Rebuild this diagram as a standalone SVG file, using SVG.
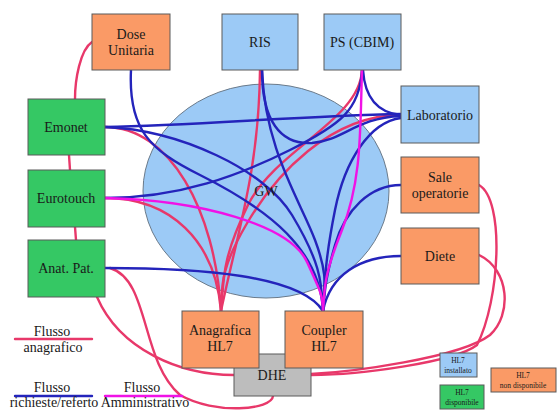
<svg xmlns="http://www.w3.org/2000/svg" width="557" height="410" viewBox="0 0 557 410">
  <style>
    .box { stroke: #5a5a5a; stroke-width: 1; }
    .or { fill: #fa9a66; }
    .bl { fill: #9ccaf6; }
    .gr { fill: #35c864; }
    .gy { fill: #bdbdbd; }
    .c { fill: none; stroke-width: 2.4; stroke-linecap: round; }
    .r { stroke: #e8386a; }
    .b { stroke: #2424bb; }
    .m { stroke: #f012e6; }
  </style>

  <!-- gateway -->
  <g id="gw">
    <ellipse cx="266" cy="191" rx="123" ry="107" fill="#9ccaf6" stroke="#6a7a8a" stroke-width="1"/>
  </g>

  <!-- connectors -->
  <g id="connectors">
    <!-- anagrafico -->
    <path class="c r" d="M92,42 C80,50 75,80 75,99"/>
    <path class="c r" d="M69,155 L70,170"/>
    <path class="c r" d="M75,227 L76,240"/>
    <path class="c r" d="M105,127 C170,127 215,210 221,311"/>
    <path class="c r" d="M105,198 C170,198 215,240 221,311"/>
    <path class="c r" d="M260,70 C259,170 238,230 221,311"/>
    <path class="c r" d="M362,70 C360,120 275,150 248,205 S224,280 221,311"/>
    <path class="c r" d="M401,115 C330,115 275,175 246,225 S223,290 221,311"/>
    <path class="c r" d="M110,268 C150,280 140,360 180,395 C215,415 272,410 273,396"/>
    <path class="c r" d="M97,297 C120,350 180,375 234,375"/>
    <path class="c r" d="M479,185 C505,200 500,300 477,345 C455,362 360,375 311,375"/>
    <path class="c r" d="M479,255 C510,270 512,315 490,335 C460,358 350,372 311,374"/>

    <!-- richieste/referto -->
    <path class="c b" d="M131,70 C128,130 150,150 200,175 C270,210 320,250 323,311"/>
    <path class="c b" d="M105,127 C200,125 300,116 401,114"/>
    <path class="c b" d="M105,127 C180,130 265,170 292,215 S322,280 323,311"/>
    <path class="c b" d="M105,198 C180,198 240,175 290,150 C340,125 360,110 362,70"/>
    <path class="c b" d="M262,70 C265,150 300,200 315,240 S323,290 323,311"/>
    <path class="c b" d="M262,70 C262,120 280,145 312,143 C345,140 355,118 401,116"/>
    <path class="c b" d="M363,70 C365,100 380,113 401,115"/>
    <path class="c b" d="M401,118 C370,122 345,160 335,210 S325,280 323,311"/>
    <path class="c b" d="M401,185 C370,185 345,210 335,245 S325,290 323,311"/>
    <path class="c b" d="M401,256 C360,256 330,275 323,311"/>
    <path class="c b" d="M105,268 C200,268 300,275 323,311"/>

    <!-- amministrativo -->
    <path class="c m" d="M105,198 C200,200 290,225 307,262 S322,295 323,311"/>
    <path class="c m" d="M362,70 C360,130 362,180 342,230 S325,290 323,311"/>
  </g>

  <text x="266" y="196" font-family="Liberation Serif" font-size="14" fill="#1a1a1a" text-anchor="middle">GW</text>

  <!-- nodes -->
  <g id="dose">
    <rect class="box or" x="92" y="14" width="78" height="56"/>
    <text x="131" y="39" font-family="Liberation Serif" font-size="14" fill="#1a1a1a" text-anchor="middle">Dose</text>
    <text x="131" y="55" font-family="Liberation Serif" font-size="14" fill="#1a1a1a" text-anchor="middle">Unitaria</text>
  </g>
  <g id="ris">
    <rect class="box bl" x="222" y="14" width="76" height="56"/>
    <text x="260" y="47" font-family="Liberation Serif" font-size="14" fill="#1a1a1a" text-anchor="middle">RIS</text>
  </g>
  <g id="ps">
    <rect class="box bl" x="324" y="14" width="77" height="56"/>
    <text x="362" y="47" font-family="Liberation Serif" font-size="14" fill="#1a1a1a" text-anchor="middle">PS (CBIM)</text>
  </g>
  <g id="laboratorio">
    <rect class="box bl" x="401" y="86" width="78" height="57"/>
    <text x="440" y="120" font-family="Liberation Serif" font-size="14" fill="#1a1a1a" text-anchor="middle">Laboratorio</text>
  </g>
  <g id="sale">
    <rect class="box or" x="401" y="157" width="78" height="56"/>
    <text x="440" y="182" font-family="Liberation Serif" font-size="14" fill="#1a1a1a" text-anchor="middle">Sale</text>
    <text x="440" y="198" font-family="Liberation Serif" font-size="14" fill="#1a1a1a" text-anchor="middle">operatorie</text>
  </g>
  <g id="diete">
    <rect class="box or" x="401" y="228" width="78" height="56"/>
    <text x="440" y="261" font-family="Liberation Serif" font-size="14" fill="#1a1a1a" text-anchor="middle">Diete</text>
  </g>
  <g id="emonet">
    <rect class="box gr" x="28" y="99" width="77" height="56"/>
    <text x="66" y="132" font-family="Liberation Serif" font-size="14" fill="#1a1a1a" text-anchor="middle">Emonet</text>
  </g>
  <g id="eurotouch">
    <rect class="box gr" x="28" y="170" width="77" height="57"/>
    <text x="66" y="203" font-family="Liberation Serif" font-size="14" fill="#1a1a1a" text-anchor="middle">Eurotouch</text>
  </g>
  <g id="anatpat">
    <rect class="box gr" x="28" y="240" width="77" height="57"/>
    <text x="66" y="273" font-family="Liberation Serif" font-size="14" fill="#1a1a1a" text-anchor="middle">Anat. Pat.</text>
  </g>
  <g id="dhe">
    <rect class="box gy" x="234" y="354" width="77" height="42"/>
    <text x="272" y="380" font-family="Liberation Serif" font-size="14" fill="#1a1a1a" text-anchor="middle">DHE</text>
  </g>
  <g id="anagrafica">
    <rect class="box or" x="182" y="311" width="77" height="57"/>
    <text x="220" y="335" font-family="Liberation Serif" font-size="14" fill="#1a1a1a" text-anchor="middle">Anagrafica</text>
    <text x="220" y="351" font-family="Liberation Serif" font-size="14" fill="#1a1a1a" text-anchor="middle">HL7</text>
  </g>
  <g id="coupler">
    <rect class="box or" x="285" y="311" width="78" height="57"/>
    <text x="324" y="335" font-family="Liberation Serif" font-size="14" fill="#1a1a1a" text-anchor="middle">Coupler</text>
    <text x="324" y="351" font-family="Liberation Serif" font-size="14" fill="#1a1a1a" text-anchor="middle">HL7</text>
  </g>

  <!-- legend -->
  <g id="legend">
    <text x="52" y="336" font-family="Liberation Serif" font-size="14" fill="#1a1a1a" text-anchor="middle">Flusso</text>
    <line class="c r" x1="15" y1="339" x2="92" y2="339" stroke-width="2"/>
    <text x="53" y="352" font-family="Liberation Serif" font-size="14" fill="#1a1a1a" text-anchor="middle">anagrafico</text>

    <text x="52" y="392" font-family="Liberation Serif" font-size="14" fill="#1a1a1a" text-anchor="middle">Flusso</text>
    <line class="c b" x1="15" y1="396" x2="92" y2="396" stroke-width="2"/>
    <text x="54" y="407" font-family="Liberation Serif" font-size="14" fill="#1a1a1a" text-anchor="middle">richieste/referto</text>

    <text x="142" y="392" font-family="Liberation Serif" font-size="14" fill="#1a1a1a" text-anchor="middle">Flusso</text>
    <line class="c m" x1="105" y1="396" x2="182" y2="396" stroke-width="2"/>
    <text x="145" y="407" font-family="Liberation Serif" font-size="14" fill="#1a1a1a" text-anchor="middle">Amministrativo</text>

    <rect class="box bl" x="440" y="353" width="37" height="24"/>
    <text x="458" y="363" font-family="Liberation Serif" font-size="7.5" fill="#1a1a1a" text-anchor="middle">HL7</text>
    <text x="458" y="373" font-family="Liberation Serif" font-size="7.5" fill="#1a1a1a" text-anchor="middle">installato</text>

    <rect class="box gr" x="440" y="385" width="44" height="24"/>
    <text x="462" y="395" font-family="Liberation Serif" font-size="7.5" fill="#1a1a1a" text-anchor="middle">HL7</text>
    <text x="462" y="405" font-family="Liberation Serif" font-size="7.5" fill="#1a1a1a" text-anchor="middle">disponibile</text>

    <rect class="box or" x="491" y="368" width="65" height="24"/>
    <text x="523" y="378" font-family="Liberation Serif" font-size="7.5" fill="#1a1a1a" text-anchor="middle">HL7</text>
    <text x="523" y="388" font-family="Liberation Serif" font-size="7.5" fill="#1a1a1a" text-anchor="middle">non disponibile</text>
  </g>
</svg>
